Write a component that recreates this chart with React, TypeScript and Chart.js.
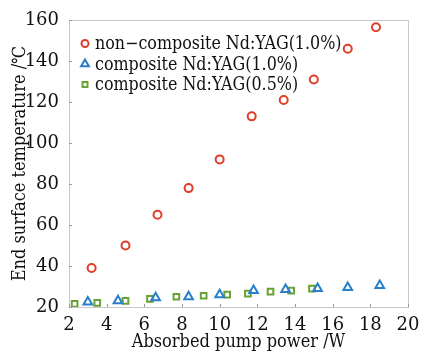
import React, { useEffect, useRef } from "react";
import { Chart, registerables } from "chart.js";
import { drawPoint } from "chart.js/helpers";
Chart.register(...registerables);

const xTicks = [2, 4, 6, 8, 10, 12, 14, 16, 18, 20];
const yTicks = [20, 40, 60, 80, 100, 120, 140, 160];

const nonCompX = [3.2, 5.0, 6.7, 8.35, 10.0, 11.7, 13.4, 15.0, 16.8, 18.3];
const nonCompY = [39, 50, 65, 78, 92, 113, 121, 131, 146, 156.5];

const comp10X = [3.0, 4.6, 6.6, 8.35, 10.0, 11.8, 13.5, 15.2, 16.8, 18.5];
const comp10Y = [22.5, 23, 24.5, 25, 26, 28, 28.5, 29, 29.5, 30.5];

const comp05X = [2.3, 3.5, 5.0, 6.3, 7.7, 9.15, 10.4, 11.5, 12.7, 13.8, 14.9];
const comp05Y = [21.5, 22, 23, 24, 25, 25.5, 26, 26.5, 27.5, 28, 29];

const labels = [
  "non\u2212composite Nd:YAG(1.0%)",
  "composite Nd:YAG(1.0%)",
  "composite Nd:YAG(0.5%)",
];

const RED = "rgb(222,62,42)";
const BLUE = "rgb(40,128,200)";
const GREEN = "rgb(104,162,52)";
const FONT = "'DejaVu Serif', serif";
const FONT_C = "'DejaVu Serif Condensed', 'DejaVu Serif', serif";

const zip = (xs: number[], ys: number[]) => xs.map((x, i) => ({ x, y: ys[i] }));

const frame = {
  id: "frame",
  afterDraw(chart: any) {
    const { ctx, chartArea: a, scales } = chart;
    ctx.save();
    ctx.strokeStyle = "#c8c8c8";
    ctx.lineWidth = 1;
    ctx.strokeRect(a.left + 0.5, a.top + 0.5, a.right - a.left, a.bottom - a.top);
    ctx.strokeStyle = "#999";
    ctx.beginPath();
    for (const v of xTicks) {
      const px = Math.round(scales.x.getPixelForValue(v)) + 0.5;
      ctx.moveTo(px, a.bottom);
      ctx.lineTo(px, a.bottom - 3);
    }
    for (const v of yTicks) {
      const py = Math.round(scales.y.getPixelForValue(v)) + 0.5;
      ctx.moveTo(a.left, py);
      ctx.lineTo(a.left + 3, py);
    }
    ctx.stroke();
    // legend
    ctx.font = `17.7px ${FONT_C}`;
    ctx.textBaseline = "middle";
    ctx.textAlign = "left";
    chart.data.datasets.forEach((ds: any, i: number) => {
      const cy = a.top + 23.5 + i * 20.5;
      const cx = a.left + 16;
      ctx.strokeStyle = ds.borderColor;
      ctx.fillStyle = "rgba(255,255,255,0)";
      ctx.lineWidth = 2;
      drawPoint(ctx, { pointStyle: ds.pointStyle, radius: ds.pointStyle === "triangle" ? 4.5 : 3.5, borderWidth: 2, rotation: 0 } as any, cx, cy);
      ctx.fillStyle = "#111";
      ctx.fillText(ds.label, cx + 10, cy + 1);
    });
    ctx.restore();
  },
};

export default function App() {
  const ref = useRef<HTMLCanvasElement>(null);
  useEffect(() => {
    if (!ref.current) return;
    const chart = new Chart(ref.current, {
      type: "scatter",
      data: {
        datasets: [
          {
            label: labels[0],
            data: zip(nonCompX, nonCompY),
            pointStyle: "circle",
            radius: 4,
            borderColor: RED,
            backgroundColor: "rgba(255,255,255,0)",
            borderWidth: 2,
          },
          {
            label: labels[1],
            data: zip(comp10X, comp10Y),
            pointStyle: "triangle",
            radius: 5,
            borderColor: BLUE,
            backgroundColor: "rgba(255,255,255,0)",
            borderWidth: 2,
          },
          {
            label: labels[2],
            data: zip(comp05X, comp05Y),
            pointStyle: "rect",
            radius: 4,
            borderColor: GREEN,
            backgroundColor: "rgba(255,255,255,0)",
            borderWidth: 2,
          },
        ],
      },
      options: {
        animation: false,
        responsive: true,
        maintainAspectRatio: false,
        layout: { padding: { top: 20, right: 14, left: 0, bottom: 0 } },
        plugins: {
          tooltip: { enabled: false },
          legend: { display: false },
        },
        scales: {
          x: {
            type: "linear",
            min: 2,
            max: 20,
            afterFit: (s: any) => {
              s.height = 44;
            },
            afterBuildTicks: (s: any) => {
              s.ticks = xTicks.map((v) => ({ value: v }));
            },
            grid: { display: false },
            border: { display: true, color: "#c8c8c8" },
            ticks: {
              color: "#111",
              padding: 0,
              font: { family: FONT, size: 18 },
              maxRotation: 0,
            },
            title: {
              display: true,
              text: "Absorbed pump power /W",
              color: "#111",
              padding: { top: 0, bottom: -2 },
              font: { family: FONT_C, size: 18 },
            },
          },
          y: {
            type: "linear",
            min: 20,
            max: 160,
            afterFit: (s: any) => {
              s.width = 69;
            },
            afterBuildTicks: (s: any) => {
              s.ticks = yTicks.map((v) => ({ value: v }));
            },
            grid: { display: false },
            border: { display: true, color: "#c8c8c8" },
            ticks: {
              color: "#111",
              padding: 2,
              font: { family: FONT, size: 18 },
            },
            title: {
              display: true,
              text: "End surface temperature /\u2103",
              color: "#111",
              padding: { top: 10, bottom: 0 },
              font: { family: FONT_C, size: 18 },
            },
          },
        },
      },
      plugins: [frame],
    } as any);
    return () => chart.destroy();
  }, []);
  return (
    <div style={{ position: "absolute", left: 0, top: 0, width: 422, height: 351, background: "#fff" }}>
      <canvas ref={ref} />
    </div>
  );
}
